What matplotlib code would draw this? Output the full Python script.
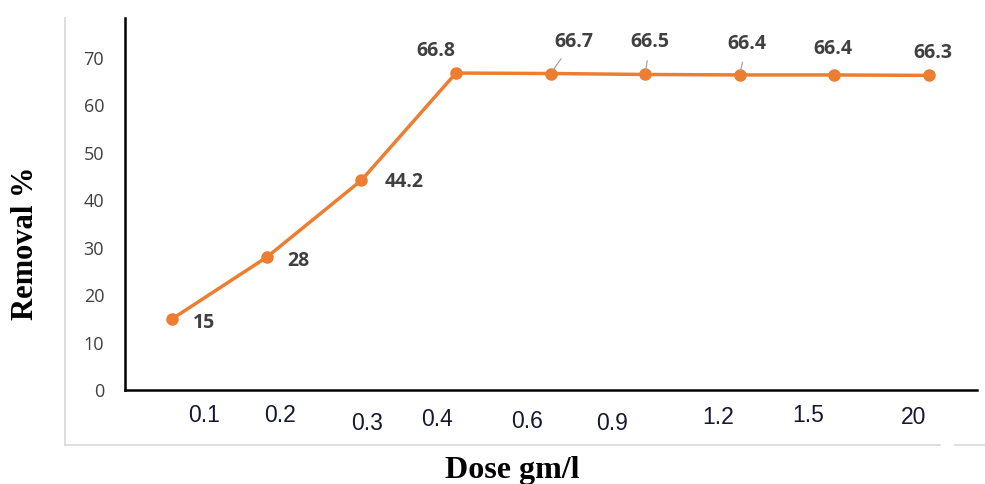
#!/usr/bin/env python3
"""Removal % against dose, line chart with point labels."""
import matplotlib
matplotlib.use("Agg")
import matplotlib.pyplot as plt
from matplotlib.lines import Line2D

# data
dose_labels = ["0.1", "0.2", "0.3", "0.4", "0.6", "0.9", "1.2", "1.5", "20"]
removal = [15, 28, 44.2, 66.8, 66.7, 66.5, 66.4, 66.4, 66.3]
y_ticks = [0, 10, 20, 30, 40, 50, 60, 70]

# layout tweaks (pixel offsets, as in the original hand-placed labels)
xlab_off = [(32, -26), (13, -26), (6, -33), (-19, -30), (-23, -32),
            (-33, -33), (-22, -27), (-26, -25), (-15, -27)]
val_off = [(32, -4), (32, -4), (43, -2), (-20, 22), (23, 32),
           (5, 32), (7, 31), (-1, 26), (4, 22)]
leader = [False, False, False, False, True, True, True, False, False]

ORANGE = "#ED7D31"
LABEL_GREY = "#404040"

fig = plt.figure(figsize=(9.85, 4.84), dpi=100)
ax = fig.add_axes([125 / 985, 94 / 484, 852 / 985, 372 / 484])

x = list(range(len(removal)))
ax.plot(x, removal, color=ORANGE, lw=2.5, marker="o", ms=8,
        solid_capstyle="round", zorder=3)

ax.set_xlim(-0.5, 8.51)
ax.set_ylim(0, 78.4)
ax.set_yticks(y_ticks)
ax.set_yticklabels([str(t) for t in y_ticks], fontfamily="Open Sans",
                   fontsize=13, color=LABEL_GREY)
ax.tick_params(axis="y", length=0, pad=15)
ax.set_xticks([])

for s in ["top", "right"]:
    ax.spines[s].set_visible(False)
for s in ["left", "bottom"]:
    ax.spines[s].set_linewidth(1.8)
    ax.spines[s].set_color("black")

# x category labels, slightly scattered like the source
for i, lab in enumerate(dose_labels):
    dx, dy = xlab_off[i]
    ax.annotate(lab, xy=(i, 0), xycoords="data", xytext=(dx, dy),
                textcoords="offset pixels", ha="center", va="center",
                fontfamily="Liberation Sans", fontsize=16.5, color="#141830",
                annotation_clip=False)

# value labels
for i, v in enumerate(removal):
    dx, dy = val_off[i]
    txt = f"{v:g}"
    props = None
    if leader[i]:
        props = dict(arrowstyle="-", color="#a6a6a6", lw=0.9,
                     shrinkA=-4, shrinkB=3)
    ax.annotate(txt, xy=(i, v), xytext=(dx, dy), textcoords="offset pixels",
                ha="center", va="center", fontfamily="Open Sans",
                fontweight="bold", fontsize=14, color=LABEL_GREY,
                arrowprops=props, annotation_clip=False)

# axis titles
fig.text(26 / 985, 1 - 243 / 484, "Removal %", rotation=90, ha="center",
         va="center", fontfamily="Liberation Serif", fontweight="bold",
         fontsize=22)
fig.text(512 / 985, 1 - 478 / 484, "Dose gm/l", ha="center", va="baseline",
         fontfamily="Liberation Serif", fontweight="bold", fontsize=23)

# faint chart-area border
grey = "#d9d9d9"
fig.add_artist(Line2D([65 / 985, 65 / 985], [1 - 18 / 484, 1 - 445 / 484],
                      color=grey, lw=1.2))
fig.add_artist(Line2D([65 / 985, 940 / 985], [1 - 445 / 484, 1 - 445 / 484],
                      color=grey, lw=1.2))
fig.add_artist(Line2D([955 / 985, 1.0], [1 - 445 / 484, 1 - 445 / 484],
                      color=grey, lw=1.2))

fig.savefig("out.png", dpi=100)
